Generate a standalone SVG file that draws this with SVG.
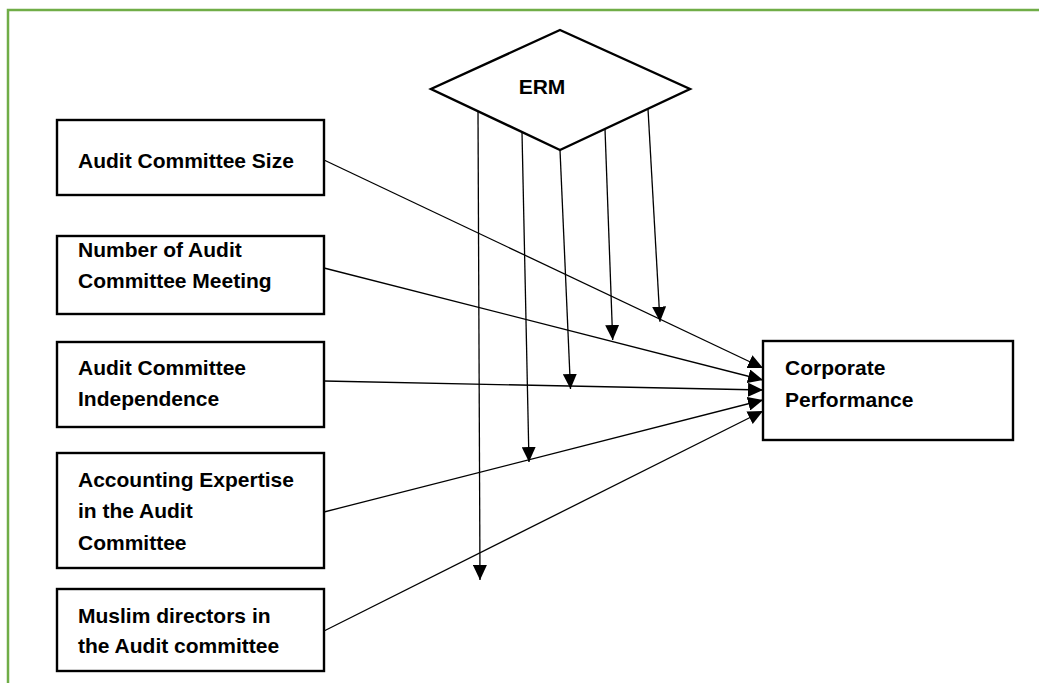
<svg xmlns="http://www.w3.org/2000/svg" width="1039" height="683" viewBox="0 0 1039 683">
<defs>
<style>
.box{fill:#fff;stroke:#000;stroke-width:2.4}
.lbl{font-family:"Liberation Sans",Arial,sans-serif;font-weight:bold;font-size:21px;fill:#000}
.edge{stroke:#000;stroke-width:1.3;fill:none;marker-end:url(#ah)}
</style>
<marker id="ah" markerUnits="userSpaceOnUse" markerWidth="15" markerHeight="14" refX="15" refY="7" orient="auto" viewBox="0 0 15 14">
<path d="M0,0 L15,7 L0,14 Z" fill="#000"/>
</marker>
</defs>
<rect width="1039" height="683" fill="#fff"/>
<path d="M8,683 V10 H1039" fill="none" stroke="#70AD47" stroke-width="2.5"/>
<g id="erm">
<polygon class="box" points="560,30 690,89 560,150 431,89"/>
<text class="lbl" x="542" y="94" text-anchor="middle" font-size="22">ERM</text>
</g>
<g id="n1">
<rect class="box" x="57" y="120" width="267" height="75"/>
<text class="lbl" x="78" y="168">Audit Committee Size</text>
</g>
<g id="n2">
<rect class="box" x="57" y="236" width="267" height="78"/>
<text class="lbl" x="78" y="257">Number of Audit</text>
<text class="lbl" x="78" y="288">Committee Meeting</text>
</g>
<g id="n3">
<rect class="box" x="57" y="342" width="267" height="85"/>
<text class="lbl" x="78" y="375">Audit Committee</text>
<text class="lbl" x="78" y="406">Independence</text>
</g>
<g id="n4">
<rect class="box" x="57" y="453" width="267" height="115"/>
<text class="lbl" x="78" y="487">Accounting Expertise</text>
<text class="lbl" x="78" y="518">in the Audit</text>
<text class="lbl" x="78" y="550">Committee</text>
</g>
<g id="n5">
<rect class="box" x="57" y="589" width="267" height="82"/>
<text class="lbl" x="78" y="623">Muslim directors in</text>
<text class="lbl" x="78" y="653">the Audit committee</text>
</g>
<g id="perf">
<rect class="box" x="763" y="341" width="250" height="99"/>
<text class="lbl" x="785" y="375">Corporate</text>
<text class="lbl" x="785" y="407">Performance</text>
</g>
<g id="connectors">
<line class="edge" x1="324" y1="160" x2="763" y2="368"/>
<line class="edge" x1="324" y1="268" x2="763" y2="380"/>
<line class="edge" x1="324" y1="381" x2="763" y2="390"/>
<line class="edge" x1="324" y1="512" x2="763" y2="400"/>
<line class="edge" x1="324" y1="631" x2="763" y2="411"/>
<line class="edge" x1="478" y1="111" x2="480" y2="580"/>
<line class="edge" x1="522" y1="132" x2="529" y2="462"/>
<line class="edge" x1="560" y1="150" x2="570.5" y2="389"/>
<line class="edge" x1="605" y1="129" x2="612.7" y2="340"/>
<line class="edge" x1="648" y1="109" x2="660" y2="321.7"/>
</g>
</svg>
